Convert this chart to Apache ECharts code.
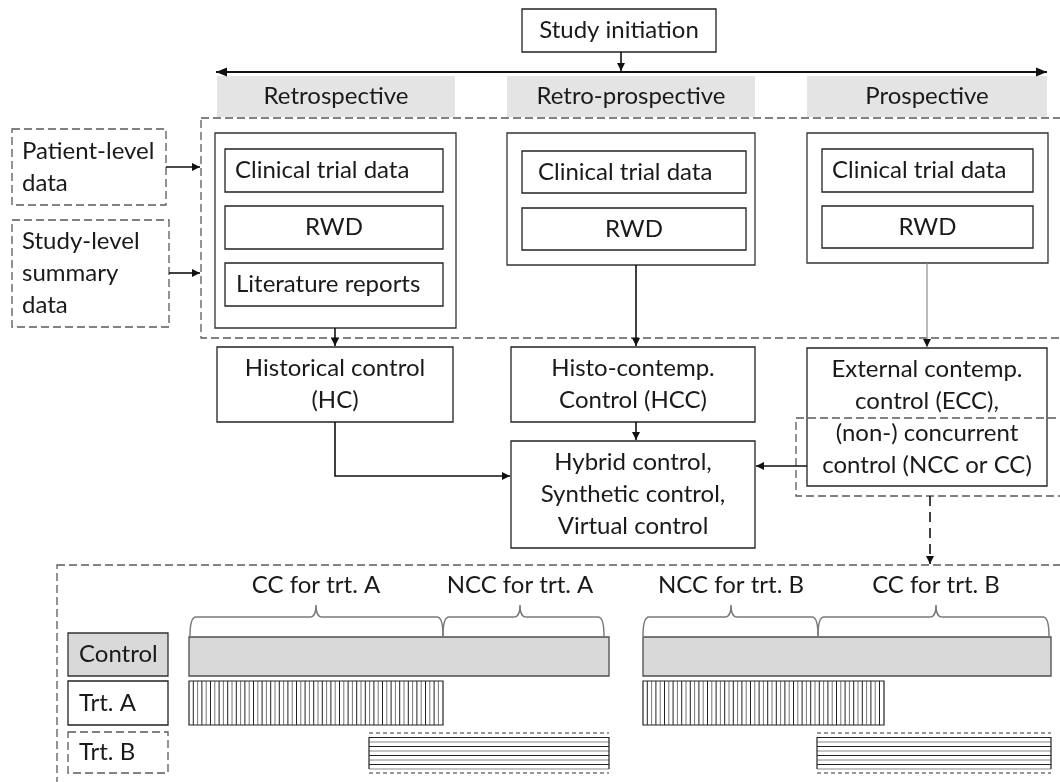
<!DOCTYPE html>
<html>
<head>
<meta charset="utf-8">
<script src="https://cdn.jsdelivr.net/npm/echarts@6/dist/echarts.min.js"></script>
<style>
html, body { margin: 0; padding: 0; background: #fff; }
#main { width: 1060px; height: 782px; }
</style>
</head>
<body>
<div id="main"></div>
<script>
var FONT = 'Lato';
var FS = 24;
var INK = '#1a1a1a';

// gray phase headers [x0, y0, x1, y1]
var headerBoxes = [[217, 76, 455, 117], [507, 76, 755, 117], [807, 76, 1047, 117]];
var headerLabels = ['Retrospective', 'Retro-prospective', 'Prospective'];

// outer group boxes (no text)
var groupBoxes = [[215, 133, 456, 328], [507, 133, 755, 265], [807, 133, 1048, 263]];

// solid boxes with text
var solidBoxes = [
  [522, 9, 716, 52],
  [225, 149, 443, 192], [225, 206, 443, 249], [225, 263, 443, 306],
  [522, 151, 746, 193], [522, 208, 746, 250],
  [822, 149, 1033, 192], [822, 206, 1033, 248],
  [217, 347, 453, 422], [511, 347, 755, 422], [807, 348, 1047, 486], [511, 441, 755, 548],
  [68, 681, 168, 725]
];
var solidLabels = [
  'Study initiation',
  'Clinical trial data', 'RWD', 'Literature reports',
  'Clinical trial data', 'RWD',
  'Clinical trial data', 'RWD',
  'Historical control\n(HC)', 'Histo-contemp.\nControl (HCC)',
  'External contemp.\ncontrol (ECC),\n(non-) concurrent\ncontrol (NCC or CC)',
  'Hybrid control,\nSynthetic control,\nVirtual control',
  'Trt. A'
];
var solidTextX = [null, 235, null, 236, 538, null, 832, null, null, null, null, null, 79];

// gray filled label box
var grayBoxes = [[68, 633, 168, 676]];
var grayLabels = ['Control'];
var grayTextX = [79];

// dashed boxes
var dashedBoxes = [[12, 129, 166, 205], [12, 220, 169, 327], [68, 732, 168, 773],
  [201, 118, 1066, 338], [796, 418, 1066, 496], [57, 565, 1066, 800]];
var dashedLabels = ['Patient-level\ndata', 'Study-level\nsummary\ndata', 'Trt. B', '', '', ''];
var dashedTextX = [22, 22, 79, null, null, null];

// connectors: list of points, head style
var arrowPaths = [
  [[621, 52], [621, 71]],
  [[216, 72], [1047, 72]],
  [[166, 167], [200, 167]],
  [[169, 273], [200, 273]],
  [[335, 328], [335, 346]],
  [[636, 265], [636, 346]],
  [[927, 263], [927, 347]],
  [[335, 422], [335, 476], [510, 476]],
  [[636, 422], [636, 440]],
  [[807, 466], [756, 466]],
  [[930, 496], [930, 564]]
];
var arrowHeads = ['end', 'both', 'end', 'end', 'end', 'end', 'end', 'end', 'end', 'end', 'end'];
var arrowLooks = ['solid', 'bold', 'solid', 'solid', 'solid', 'solid', 'thin', 'solid', 'solid', 'solid', 'dashed'];

// braces over the timeline [start, end, tip]
var braceSpans = [[190, 443, 316], [443, 604, 520], [643, 818, 731], [818, 1049, 936]];
var braceLabels = ['CC for trt. A', 'NCC for trt. A', 'NCC for trt. B', 'CC for trt. B'];

// timeline periods per arm [start, end, row]
var controlBars = [[189, 609, 0], [643, 1051, 0]];
var trtABars = [[189, 443, 1], [643, 884, 1]];
var trtBBars = [[369, 609, 2], [817, 1051, 2]];
var rowBands = [[637, 676], [681, 725], [733, 773]];

function textEl(str, x, y, align) {
  return {
    type: 'text',
    style: {
      text: str, x: x, y: y, align: align, verticalAlign: 'middle',
      fill: INK, fontSize: FS, fontFamily: FONT, lineHeight: 32
    }
  };
}

function boxSeries(rects, labels, textX, look) {
  return {
    type: 'custom',
    coordinateSystem: 'cartesian2d',
    silent: true,
    data: rects,
    renderItem: function (params, api) {
      var i = params.dataIndex;
      var a = api.coord([api.value(0), api.value(1)]);
      var b = api.coord([api.value(2), api.value(3)]);
      var kids = [{
        type: 'rect',
        shape: { x: a[0], y: a[1], width: b[0] - a[0], height: b[1] - a[1] },
        style: look
      }];
      var lab = labels ? labels[i] : '';
      if (lab) {
        var cy = (a[1] + b[1]) / 2;
        if (textX[i] != null) kids.push(textEl(lab, api.coord([textX[i], 0])[0], cy, 'left'));
        else kids.push(textEl(lab, (a[0] + b[0]) / 2, cy, 'center'));
      }
      return { type: 'group', children: kids };
    }
  };
}

function headPoly(tip, from, len, half) {
  var dx = tip[0] - from[0], dy = tip[1] - from[1];
  var d = Math.sqrt(dx * dx + dy * dy) || 1;
  var ux = dx / d, uy = dy / d;
  var bx = tip[0] - ux * len, by = tip[1] - uy * len;
  return [[tip[0], tip[1]], [bx - uy * half, by + ux * half], [bx + uy * half, by - ux * half]];
}

var arrowSeries = {
  type: 'custom',
  coordinateSystem: 'cartesian2d',
  silent: true,
  data: arrowPaths.map(function (p) { return p[0]; }),
  renderItem: function (params, api) {
    var i = params.dataIndex;
    var pts = arrowPaths[i].map(function (p) { return api.coord(p); });
    var look = arrowLooks[i];
    var color = look === 'thin' ? '#8c8c8c' : '#111';
    var lw = look === 'bold' ? 2 : (look === 'thin' ? 1.2 : 1.6);
    var kids = [{
      type: 'polyline',
      shape: { points: pts },
      style: { stroke: color, lineWidth: lw, fill: null, lineDash: look === 'dashed' ? [10, 6] : null }
    }];
    var len = look === 'bold' ? 11 : 8, half = look === 'bold' ? 4.5 : 4;
    var n = pts.length;
    kids.push({ type: 'polygon', shape: { points: headPoly(pts[n - 1], pts[n - 2], len, half) }, style: { fill: '#111' } });
    if (arrowHeads[i] === 'both') {
      kids.push({ type: 'polygon', shape: { points: headPoly(pts[0], pts[1], len, half) }, style: { fill: '#111' } });
    }
    return { type: 'group', children: kids };
  }
};

var braceTop = 617, braceFoot = 636, bracePeak = 605, labelY = 585;
var braceSeries = {
  type: 'custom',
  coordinateSystem: 'cartesian2d',
  silent: true,
  data: braceSpans,
  renderItem: function (params, api) {
    var i = params.dataIndex;
    var x0 = api.coord([api.value(0), braceTop])[0];
    var x1 = api.coord([api.value(1), braceTop])[0];
    var xm = api.coord([api.value(2), braceTop])[0];
    var yt = api.coord([0, braceTop])[1];
    var yf = api.coord([0, braceFoot])[1];
    var yp = api.coord([0, bracePeak])[1];
    var r = 6;
    var d = 'M' + x0 + ' ' + yf + ' Q' + x0 + ' ' + yt + ' ' + (x0 + r) + ' ' + yt +
      ' L' + (xm - r) + ' ' + yt + ' Q' + xm + ' ' + yt + ' ' + xm + ' ' + yp +
      ' Q' + xm + ' ' + yt + ' ' + (xm + r) + ' ' + yt +
      ' L' + (x1 - r) + ' ' + yt + ' Q' + x1 + ' ' + yt + ' ' + x1 + ' ' + yf;
    return {
      type: 'group',
      children: [
        { type: 'path', shape: { pathData: d }, style: { stroke: '#7a7a7a', lineWidth: 1.5, fill: null } },
        textEl(braceLabels[i], xm, api.coord([0, labelY])[1], 'center')
      ]
    };
  }
};

function renderBar(params, api) {
  var row = api.value(2);
  var band = rowBands[row];
  var a = api.coord([api.value(0), band[0]]);
  var b = api.coord([api.value(1), band[1]]);
  var w = b[0] - a[0], h = b[1] - a[1];
  var kids = [];
  var x, y, k;
  if (row === 0) {
    kids.push({ type: 'rect', shape: { x: a[0], y: a[1], width: w, height: h },
      style: { fill: '#d9d9d9', stroke: '#4d4d4d', lineWidth: 1.3 } });
  } else if (row === 1) {
    for (x = a[0] + 4.3, k = 0; x < b[0] - 1; x += 4.3, k++) {
      kids.push({ type: 'line', shape: { x1: x, y1: a[1], x2: x, y2: b[1] },
        style: { stroke: k % 2 ? '#777' : '#222', lineWidth: 1 } });
    }
    kids.push({ type: 'rect', shape: { x: a[0], y: a[1], width: w, height: h },
      style: { fill: null, stroke: '#222', lineWidth: 1.2 } });
  } else {
    for (y = a[1] + 4.5, k = 0; y < b[1] - 2; y += 4.5, k++) {
      kids.push({ type: 'line', shape: { x1: a[0], y1: y, x2: b[0], y2: y },
        style: { stroke: k % 2 ? '#888' : '#222', lineWidth: 1 } });
    }
    kids.push({ type: 'line', shape: { x1: a[0], y1: a[1] + 4, x2: a[0], y2: b[1] - 4 }, style: { stroke: '#222', lineWidth: 1.2 } });
    kids.push({ type: 'line', shape: { x1: b[0], y1: a[1] + 4, x2: b[0], y2: b[1] - 4 }, style: { stroke: '#222', lineWidth: 1.2 } });
    kids.push({ type: 'line', shape: { x1: a[0], y1: a[1], x2: b[0], y2: a[1] }, style: { stroke: '#333', lineWidth: 1.2, lineDash: [4, 3] } });
    kids.push({ type: 'line', shape: { x1: a[0], y1: b[1], x2: b[0], y2: b[1] }, style: { stroke: '#333', lineWidth: 1.2, lineDash: [4, 3] } });
  }
  return { type: 'group', children: kids };
}

function barSeries(rows) {
  return { type: 'custom', coordinateSystem: 'cartesian2d', silent: true, data: rows, renderItem: renderBar };
}

var myChart = echarts.init(document.getElementById('main'));

var option = {
  animation: false,
  backgroundColor: '#fff',
  grid: { left: 0, right: 0, top: 0, bottom: 0 },
  xAxis: { type: 'value', min: 0, max: 1060, show: false },
  yAxis: { type: 'value', min: 0, max: 782, inverse: true, show: false },
  series: [
    boxSeries(headerBoxes, headerLabels, [null, null, null], { fill: '#e4e4e4', stroke: null }),
    boxSeries(groupBoxes, null, null, { fill: '#fff', stroke: '#333', lineWidth: 1.3 }),
    boxSeries(grayBoxes, grayLabels, grayTextX, { fill: '#d9d9d9', stroke: '#333', lineWidth: 1.3 }),
    boxSeries(solidBoxes, solidLabels, solidTextX, { fill: '#fff', stroke: '#222', lineWidth: 1.3 }),
    boxSeries(dashedBoxes, dashedLabels, dashedTextX, { fill: null, stroke: '#5a5a5a', lineWidth: 1.3, lineDash: [8, 4] }),
    arrowSeries,
    braceSeries,
    barSeries(controlBars),
    barSeries(trtABars),
    barSeries(trtBBars)
  ]
};
myChart.setOption(option);
</script>
</body>
</html>
